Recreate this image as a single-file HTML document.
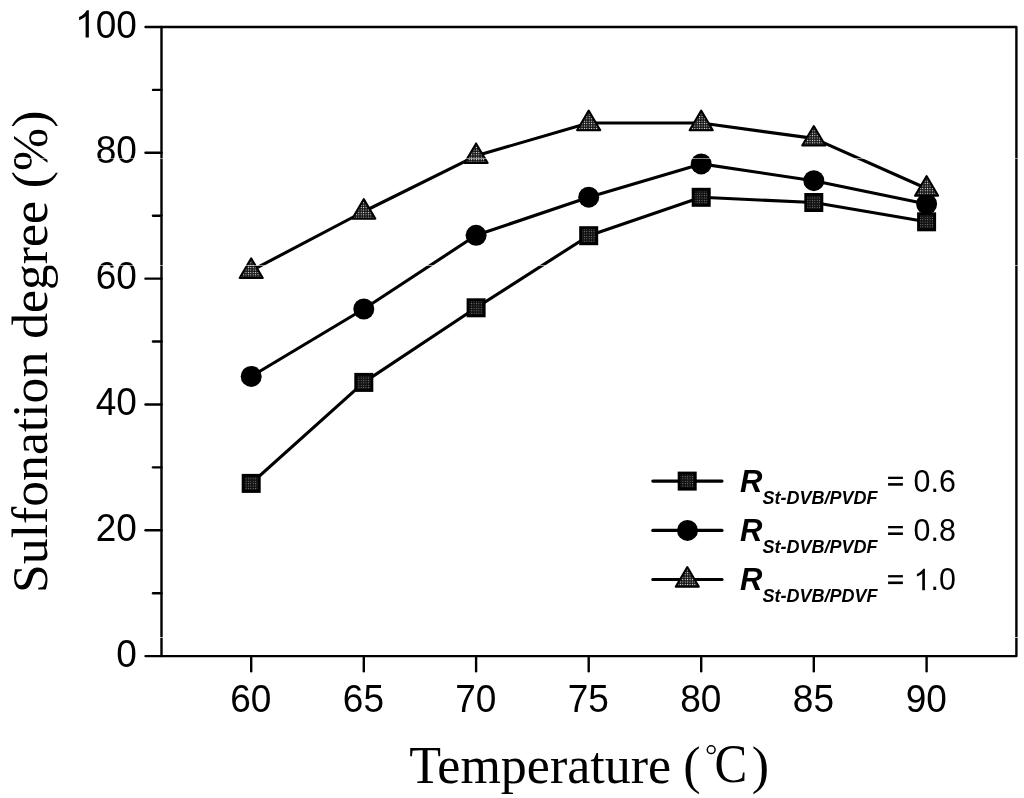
<!DOCTYPE html>
<html><head><meta charset="utf-8"><style>
html,body{margin:0;padding:0;background:#fff;}
body{width:1024px;height:798px;overflow:hidden;position:relative;}
svg{position:absolute;left:0;top:0;filter:grayscale(1);}
.tk{font-family:"Liberation Sans",sans-serif;font-size:37px;fill:#000;}
.lgR{font-family:"Liberation Sans",sans-serif;font-size:31px;font-weight:bold;font-style:italic;fill:#000;}
.lgS{font-family:"Liberation Sans",sans-serif;font-size:18px;font-weight:bold;font-style:italic;fill:#000;}
.lgN{font-family:"Liberation Sans",sans-serif;font-size:31.5px;fill:#000;}
.ttl{font-family:"Liberation Serif",serif;font-size:52px;fill:#000;}
</style></head><body>
<svg width="1024" height="798" viewBox="0 0 1024 798">
<defs>
<pattern id="psq" width="2.4" height="2.4" patternUnits="userSpaceOnUse"><rect width="2.4" height="2.4" fill="#111"/><rect x="0.8" y="0.8" width="0.9" height="0.9" fill="#888"/></pattern>
<pattern id="ptr" width="2.4" height="2.4" patternUnits="userSpaceOnUse"><rect width="2.4" height="2.4" fill="#111"/><rect x="0.7" y="0.7" width="1.05" height="1.05" fill="#fff"/></pattern>
</defs>
<rect x="161.5" y="27.0" width="854.9" height="629.1" fill="none" stroke="#000" stroke-width="2.4" stroke-linejoin="round"/>
<line x1="145.5" y1="656.10" x2="161.5" y2="656.10" stroke="#000" stroke-width="2.4" stroke-linecap="round"/><line x1="153.0" y1="593.19" x2="161.5" y2="593.19" stroke="#000" stroke-width="2.4" stroke-linecap="round"/><line x1="145.5" y1="530.28" x2="161.5" y2="530.28" stroke="#000" stroke-width="2.4" stroke-linecap="round"/><line x1="153.0" y1="467.37" x2="161.5" y2="467.37" stroke="#000" stroke-width="2.4" stroke-linecap="round"/><line x1="145.5" y1="404.46" x2="161.5" y2="404.46" stroke="#000" stroke-width="2.4" stroke-linecap="round"/><line x1="153.0" y1="341.55" x2="161.5" y2="341.55" stroke="#000" stroke-width="2.4" stroke-linecap="round"/><line x1="145.5" y1="278.64" x2="161.5" y2="278.64" stroke="#000" stroke-width="2.4" stroke-linecap="round"/><line x1="153.0" y1="215.73" x2="161.5" y2="215.73" stroke="#000" stroke-width="2.4" stroke-linecap="round"/><line x1="145.5" y1="152.82" x2="161.5" y2="152.82" stroke="#000" stroke-width="2.4" stroke-linecap="round"/><line x1="153.0" y1="89.91" x2="161.5" y2="89.91" stroke="#000" stroke-width="2.4" stroke-linecap="round"/><line x1="145.5" y1="27.00" x2="161.5" y2="27.00" stroke="#000" stroke-width="2.4" stroke-linecap="round"/><line x1="251.20" y1="656.1" x2="251.20" y2="671.3" stroke="#000" stroke-width="2.4" stroke-linecap="round"/><line x1="363.80" y1="656.1" x2="363.80" y2="671.3" stroke="#000" stroke-width="2.4" stroke-linecap="round"/><line x1="476.10" y1="656.1" x2="476.10" y2="671.3" stroke="#000" stroke-width="2.4" stroke-linecap="round"/><line x1="588.70" y1="656.1" x2="588.70" y2="671.3" stroke="#000" stroke-width="2.4" stroke-linecap="round"/><line x1="701.20" y1="656.1" x2="701.20" y2="671.3" stroke="#000" stroke-width="2.4" stroke-linecap="round"/><line x1="813.80" y1="656.1" x2="813.80" y2="671.3" stroke="#000" stroke-width="2.4" stroke-linecap="round"/><line x1="926.60" y1="656.1" x2="926.60" y2="671.3" stroke="#000" stroke-width="2.4" stroke-linecap="round"/>
<g transform="translate(116.22,666.60) scale(1,1.07)"><text x="0.00" y="0" class="tk">0</text></g><g transform="translate(95.64,540.78) scale(1,1.07)"><text x="0.00" y="0" class="tk">2</text><text x="20.58" y="0" class="tk">0</text></g><g transform="translate(95.64,414.96) scale(1,1.07)"><text x="0.00" y="0" class="tk">4</text><text x="20.58" y="0" class="tk">0</text></g><g transform="translate(95.64,289.14) scale(1,1.07)"><text x="0.00" y="0" class="tk">6</text><text x="20.58" y="0" class="tk">0</text></g><g transform="translate(95.64,163.32) scale(1,1.07)"><text x="0.00" y="0" class="tk">8</text><text x="20.58" y="0" class="tk">0</text></g><g transform="translate(75.07,37.50) scale(1,1.07)"><path d="M763 0H583V1147Q518 1085 412 1023Q307 961 223 930V1104Q374 1175 487 1276Q600 1377 647 1472H763Z" transform="translate(0.00,0) scale(0.01807,-0.01729)" fill="#000"/><text x="20.58" y="0" class="tk">0</text><text x="41.16" y="0" class="tk">0</text></g><text transform="translate(250.8,712.1) scale(1,1.07)" text-anchor="middle" class="tk">60</text><text transform="translate(363.4,712.1) scale(1,1.07)" text-anchor="middle" class="tk">65</text><text transform="translate(475.7,712.1) scale(1,1.07)" text-anchor="middle" class="tk">70</text><text transform="translate(588.3,712.1) scale(1,1.07)" text-anchor="middle" class="tk">75</text><text transform="translate(700.8,712.1) scale(1,1.07)" text-anchor="middle" class="tk">80</text><text transform="translate(813.4,712.1) scale(1,1.07)" text-anchor="middle" class="tk">85</text><text transform="translate(926.2,712.1) scale(1,1.07)" text-anchor="middle" class="tk">90</text>
<polyline points="251.2,483.4 363.8,382.4 476.1,307.8 588.7,235.7 701.2,197.3 813.8,202.5 926.6,221.8" fill="none" stroke="#000" stroke-width="3.1" stroke-linejoin="round"/><polyline points="251.2,376.4 363.8,309.0 476.1,235.3 588.7,197.2 701.2,163.9 813.8,180.7 926.6,204.0" fill="none" stroke="#000" stroke-width="3.1" stroke-linejoin="round"/><polyline points="251.2,270.7 363.8,211.5 476.1,155.8 588.7,123.0 701.2,123.0 813.8,138.4 926.6,188.5" fill="none" stroke="#000" stroke-width="3.1" stroke-linejoin="round"/><circle cx="251.20" cy="376.40" r="10.50" fill="#000"/><circle cx="363.80" cy="309.00" r="10.50" fill="#000"/><circle cx="476.10" cy="235.30" r="10.50" fill="#000"/><circle cx="588.70" cy="197.20" r="10.50" fill="#000"/><circle cx="701.20" cy="163.90" r="10.50" fill="#000"/><circle cx="813.80" cy="180.70" r="10.50" fill="#000"/><circle cx="926.60" cy="204.00" r="10.50" fill="#000"/><rect x="241.70" y="473.90" width="19.00" height="19.00" fill="#000"/><rect x="244.70" y="476.90" width="13.00" height="13.00" fill="url(#psq)"/><rect x="354.30" y="372.90" width="19.00" height="19.00" fill="#000"/><rect x="357.30" y="375.90" width="13.00" height="13.00" fill="url(#psq)"/><rect x="466.60" y="298.30" width="19.00" height="19.00" fill="#000"/><rect x="469.60" y="301.30" width="13.00" height="13.00" fill="url(#psq)"/><rect x="579.20" y="226.20" width="19.00" height="19.00" fill="#000"/><rect x="582.20" y="229.20" width="13.00" height="13.00" fill="url(#psq)"/><rect x="691.70" y="187.80" width="19.00" height="19.00" fill="#000"/><rect x="694.70" y="190.80" width="13.00" height="13.00" fill="url(#psq)"/><rect x="804.30" y="193.00" width="19.00" height="19.00" fill="#000"/><rect x="807.30" y="196.00" width="13.00" height="13.00" fill="url(#psq)"/><rect x="917.10" y="212.30" width="19.00" height="19.00" fill="#000"/><rect x="920.10" y="215.30" width="13.00" height="13.00" fill="url(#psq)"/><polygon points="251.20,258.30 262.80,277.90 239.60,277.90" fill="url(#ptr)" stroke="#000" stroke-width="2" stroke-linejoin="round"/><polygon points="363.80,199.10 375.40,218.70 352.20,218.70" fill="url(#ptr)" stroke="#000" stroke-width="2" stroke-linejoin="round"/><polygon points="476.10,143.40 487.70,163.00 464.50,163.00" fill="url(#ptr)" stroke="#000" stroke-width="2" stroke-linejoin="round"/><polygon points="588.70,110.60 600.30,130.20 577.10,130.20" fill="url(#ptr)" stroke="#000" stroke-width="2" stroke-linejoin="round"/><polygon points="701.20,110.60 712.80,130.20 689.60,130.20" fill="url(#ptr)" stroke="#000" stroke-width="2" stroke-linejoin="round"/><polygon points="813.80,126.00 825.40,145.60 802.20,145.60" fill="url(#ptr)" stroke="#000" stroke-width="2" stroke-linejoin="round"/><polygon points="926.60,176.10 938.20,195.70 915.00,195.70" fill="url(#ptr)" stroke="#000" stroke-width="2" stroke-linejoin="round"/>
<line x1="652.8" y1="481.1" x2="722" y2="481.1" stroke="#000" stroke-width="3.1" stroke-linecap="round"/><rect x="677.70" y="471.60" width="19.00" height="19.00" fill="#000"/><rect x="680.70" y="474.60" width="13.00" height="13.00" fill="url(#psq)"/><text x="740" y="492.0" class="lgR">R</text><text x="762.5" y="503.7" class="lgS">St-DVB/PVDF</text><rect x="888.1" y="476.70" width="14.8" height="2.3" fill="#000"/><rect x="888.1" y="483.10" width="14.8" height="2.6" fill="#000"/><g transform="translate(913.60,491.90) scale(0.965,1)"><text x="0.00" y="0" class="lgN">0</text><text x="17.52" y="0" class="lgN">.</text><text x="26.27" y="0" class="lgN">6</text></g><line x1="652.8" y1="530.4" x2="722" y2="530.4" stroke="#000" stroke-width="3.1" stroke-linecap="round"/><circle cx="687.50" cy="530.40" r="10.50" fill="#000"/><text x="740" y="541.3" class="lgR">R</text><text x="762.5" y="553.0" class="lgS">St-DVB/PVDF</text><rect x="888.1" y="526.00" width="14.8" height="2.3" fill="#000"/><rect x="888.1" y="532.40" width="14.8" height="2.6" fill="#000"/><g transform="translate(913.60,541.20) scale(0.965,1)"><text x="0.00" y="0" class="lgN">0</text><text x="17.52" y="0" class="lgN">.</text><text x="26.27" y="0" class="lgN">8</text></g><line x1="652.8" y1="579.5" x2="722" y2="579.5" stroke="#000" stroke-width="3.1" stroke-linecap="round"/><polygon points="687.30,567.10 698.90,586.70 675.70,586.70" fill="url(#ptr)" stroke="#000" stroke-width="2" stroke-linejoin="round"/><text x="740" y="590.4" class="lgR">R</text><text x="762.5" y="602.1" class="lgS">St-DVB/PDVF</text><rect x="888.1" y="575.10" width="14.8" height="2.3" fill="#000"/><rect x="888.1" y="581.50" width="14.8" height="2.6" fill="#000"/><g transform="translate(913.60,590.30) scale(0.965,1)"><path d="M763 0H583V1147Q518 1085 412 1023Q307 961 223 930V1104Q374 1175 487 1276Q600 1377 647 1472H763Z" transform="translate(0.00,0) scale(0.01538,-0.01472)" fill="#000"/><text x="17.52" y="0" class="lgN">.</text><text x="26.27" y="0" class="lgN">0</text></g>
<text class="ttl" style="font-size:51.7px" transform="translate(47,592.9) rotate(-90)">Sulfonation degree (%)</text>
<text class="ttl" x="409.2" y="782.8">Temperature</text>
<text class="ttl" x="683.3" y="782.5">(</text>
<circle cx="711.2" cy="749.7" r="3.9" fill="none" stroke="#000" stroke-width="1.5"/>
<text class="ttl" transform="translate(714.5,782.2) scale(0.9,1)" style="font-size:54.5px">C</text>
<text class="ttl" x="751.8" y="782.5">)</text>
<rect x="0" y="158" width="1024" height="1" fill="#fff" fill-opacity="0.5"/>
<rect x="0" y="265" width="1024" height="1" fill="#fff" fill-opacity="0.55"/>
<rect x="0" y="637" width="1024" height="1" fill="#fff" fill-opacity="0.7"/>
</svg>
</body></html>
